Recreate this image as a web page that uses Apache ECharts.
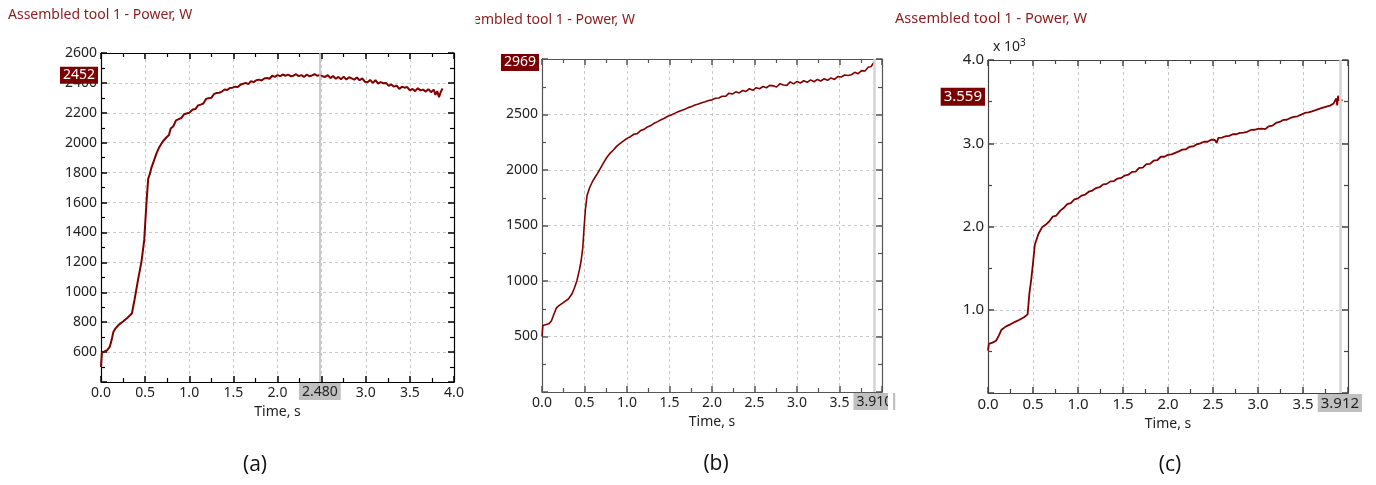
<!DOCTYPE html>
<html>
<head>
<meta charset="utf-8">
<script src="https://cdn.jsdelivr.net/npm/echarts@6/dist/echarts.min.js"></script>
<style>
  html, body { margin: 0; padding: 0; background: #fff; }
  #main { width: 1376px; height: 485px; }
</style>
</head>
<body>
<div id="main"></div>
<script>
// panel (a)
var timeA = [0, 0.01, 0.04, 0.07, 0.1, 0.12, 0.14, 0.16, 0.2, 0.25, 0.3, 0.35, 0.38, 0.42, 0.46, 0.49, 0.505, 0.52, 0.535, 0.55, 0.57, 0.6, 0.63, 0.66, 0.7, 0.74, 0.77, 0.79, 0.82, 0.85, 0.88, 0.91, 0.94, 0.97, 1.0,
  1.04, 1.07, 1.1, 1.13, 1.16, 1.19, 1.22, 1.25, 1.28, 1.31, 1.34, 1.37, 1.4, 1.43, 1.46, 1.49, 1.52, 1.55, 1.58, 1.61, 1.64, 1.67, 1.7, 1.73, 1.76, 1.79, 1.82, 1.85, 1.88, 1.91, 1.94, 1.97,
  2.0, 2.03, 2.06, 2.09, 2.12, 2.15, 2.18, 2.21, 2.24, 2.27, 2.3, 2.33, 2.36, 2.39, 2.42, 2.45, 2.48, 2.51, 2.54, 2.57, 2.6, 2.63, 2.66, 2.69, 2.72, 2.75, 2.78, 2.81, 2.84, 2.87, 2.9, 2.93, 2.96, 2.99,
  3.02, 3.05, 3.08, 3.11, 3.14, 3.17, 3.2, 3.23, 3.26, 3.29, 3.32, 3.35, 3.38, 3.41, 3.44, 3.47, 3.5, 3.53, 3.56, 3.59, 3.62, 3.65, 3.68, 3.71, 3.74, 3.77, 3.79, 3.81, 3.83, 3.85, 3.87];
var powerA = [500, 595, 605, 612, 637, 680, 735, 755, 782, 805, 830, 858, 950, 1085, 1210, 1350, 1500, 1640, 1760, 1785, 1830, 1880, 1930, 1970, 2008, 2035, 2052, 2095, 2110, 2150, 2158, 2165, 2190, 2195, 2200,
  2222, 2225, 2250, 2255, 2262, 2292, 2298, 2300, 2325, 2333, 2334, 2342, 2356, 2352, 2366, 2368, 2375, 2372, 2388, 2394, 2400, 2392, 2412, 2405, 2418, 2422, 2416, 2430, 2433, 2428, 2448, 2440,
  2452, 2445, 2456, 2448, 2455, 2445, 2448, 2458, 2445, 2452, 2440, 2455, 2445, 2450, 2458, 2448, 2452, 2445, 2440, 2452, 2432, 2446, 2428, 2440, 2425, 2442, 2422, 2438, 2430, 2422, 2436, 2418, 2430, 2408,
  2405, 2420, 2400, 2418, 2396, 2405, 2398, 2400, 2380, 2390, 2375, 2382, 2360, 2375, 2368, 2372, 2350, 2360, 2345, 2365, 2350, 2355, 2342, 2358, 2338, 2355, 2320, 2345, 2305, 2340, 2362];

// panel (b)
var timeB = [0, 0.01, 0.05, 0.08, 0.11, 0.14, 0.17, 0.2, 0.25, 0.31, 0.35, 0.38, 0.41, 0.44, 0.46, 0.48, 0.495, 0.51, 0.53, 0.56, 0.59, 0.62, 0.65, 0.69, 0.72, 0.76, 0.8, 0.84, 0.88, 0.92, 0.96, 1.0,
  1.04, 1.08, 1.12, 1.16, 1.2, 1.24, 1.28, 1.32, 1.36, 1.4, 1.44, 1.48, 1.52, 1.56, 1.6, 1.64, 1.68, 1.72, 1.76, 1.8, 1.84, 1.88, 1.92, 1.96, 2.0,
  2.04, 2.08, 2.12, 2.16, 2.2, 2.24, 2.28, 2.32, 2.36, 2.4, 2.44, 2.48, 2.52, 2.56, 2.6, 2.64, 2.68, 2.72, 2.76, 2.8, 2.84, 2.88, 2.92, 2.96, 3.0,
  3.04, 3.08, 3.12, 3.16, 3.2, 3.24, 3.28, 3.32, 3.36, 3.4, 3.44, 3.48, 3.52, 3.56, 3.6, 3.64, 3.68, 3.72, 3.76, 3.8, 3.84, 3.87, 3.9, 3.91];
var powerB = [500, 600, 608, 614, 640, 700, 758, 778, 805, 838, 880, 935, 1000, 1100, 1180, 1300, 1480, 1640, 1770, 1840, 1890, 1930, 1965, 2020, 2060, 2110, 2150, 2180, 2215, 2240, 2262, 2285,
  2300, 2322, 2328, 2355, 2366, 2388, 2400, 2422, 2436, 2452, 2466, 2484, 2496, 2510, 2524, 2536, 2548, 2562, 2572, 2586, 2594, 2606, 2614, 2626, 2632,
  2646, 2648, 2664, 2664, 2692, 2684, 2704, 2694, 2716, 2708, 2732, 2718, 2742, 2732, 2752, 2741, 2762, 2758, 2748, 2778, 2766, 2762, 2794, 2776, 2798,
  2784, 2804, 2790, 2812, 2795, 2816, 2802, 2822, 2808, 2830, 2816, 2842, 2838, 2856, 2852, 2858, 2880, 2868, 2895, 2892, 2928, 2930, 2964, 2969];

// panel (c)
var timeC = [0, 0.01, 0.05, 0.09, 0.12, 0.15, 0.2, 0.25, 0.3, 0.35, 0.4, 0.44, 0.46, 0.48, 0.5, 0.52, 0.56, 0.6, 0.64, 0.68, 0.72, 0.76, 0.8, 0.84, 0.88, 0.92, 0.96, 1.0,
  1.04, 1.08, 1.12, 1.16, 1.2, 1.24, 1.28, 1.32, 1.36, 1.4, 1.44, 1.48, 1.52, 1.56, 1.6, 1.64, 1.68, 1.72, 1.76, 1.8, 1.84, 1.88, 1.92, 1.96, 2.0,
  2.04, 2.08, 2.12, 2.16, 2.2, 2.24, 2.28, 2.32, 2.36, 2.4, 2.44, 2.48, 2.52, 2.54, 2.56, 2.6, 2.64, 2.68, 2.72, 2.76, 2.8, 2.84, 2.88, 2.92, 2.96, 3.0,
  3.04, 3.08, 3.12, 3.16, 3.2, 3.24, 3.28, 3.32, 3.36, 3.4, 3.44, 3.48, 3.52, 3.56, 3.6, 3.64, 3.68, 3.72, 3.76, 3.8, 3.84, 3.86, 3.87, 3.88, 3.89, 3.9, 3.92, 3.94];
var powerC = [510, 590, 605, 628, 690, 760, 800, 825, 855, 880, 910, 945, 1200, 1360, 1560, 1780, 1910, 1990, 2020, 2060, 2120, 2132, 2188, 2222, 2268, 2282, 2326, 2338,
  2372, 2384, 2418, 2432, 2462, 2472, 2506, 2512, 2542, 2546, 2576, 2584, 2612, 2622, 2656, 2660, 2704, 2708, 2750, 2752, 2790, 2796, 2838, 2838, 2862,
  2866, 2884, 2902, 2924, 2928, 2958, 2962, 2988, 2998, 3018, 3018, 3042, 3040, 3005, 3065, 3068, 3084, 3088, 3108, 3108, 3124, 3128, 3138, 3160, 3162, 3172,
  3176, 3170, 3204, 3212, 3244, 3256, 3280, 3282, 3304, 3318, 3324, 3344, 3364, 3372, 3384, 3398, 3414, 3428, 3440, 3452, 3478, 3480, 3540, 3455, 3570, 3520, 3540, 3515];

// cursor readouts
var cursorTime = [2.48, 3.91, 3.912];
var cursorTimeText = ['2.480', '3.910', '3.912'];
var cursorPower = [2452, 2969, 3559];
var cursorPowerText = ['2452', '2969', '3.559'];

var yMin = [400, 0, 0];
var yMax = [2600, 3000, 4000];
var yStep = [200, 500, 1000];

function zip(t, v) {
  var out = [];
  for (var i = 0; i < t.length; i++) out.push([t[i], v[i]]);
  return out;
}

var myChart = echarts.init(document.getElementById('main'));
var font = 'Noto Sans';
var lineColor = '#800000';
var grids = [
  {left: 101, top: 53, width: 353, height: 329},
  {left: 542, top: 59, width: 340, height: 333},
  {left: 988, top: 60, width: 360, height: 333}
];
var axisColor = ['#000', '#555', '#444'];
var labelSize = [14, 14, 15];

var xAxes = [], yAxes = [], series = [];
for (var i = 0; i < 3; i++) {
  var tick = {show: true, inside: true, length: 6, lineStyle: {color: axisColor[i], width: 1.5}};
  var minor = {show: true, splitNumber: 2, length: 4, lineStyle: {color: axisColor[i], width: 1.2}};
  var line = {show: true, onZero: false, lineStyle: {color: axisColor[i], width: 1.2}};
  xAxes.push({
    gridIndex: i, type: 'value', min: 0, max: 4, interval: 0.5, position: 'bottom',
    name: 'Time, s', nameLocation: 'middle', nameGap: 23,
    nameTextStyle: {fontFamily: font, fontSize: 14, color: '#222'},
    axisLine: line, axisTick: tick, minorTick: minor,
    axisLabel: {fontFamily: font, fontSize: labelSize[i], color: '#222', margin: 4,
      formatter: function (v) { return v.toFixed(1); }},
    splitLine: {show: true, lineStyle: {color: '#c8c8c8', type: [3, 3]}}
  });
  xAxes.push({
    gridIndex: i, type: 'value', min: 0, max: 4, interval: 0.5, position: 'top',
    axisLine: line, axisTick: tick, minorTick: minor,
    axisLabel: {show: false}, splitLine: {show: false}
  });
  yAxes.push({
    gridIndex: i, type: 'value', min: yMin[i], max: yMax[i], interval: yStep[i], position: 'left',
    axisLine: line, axisTick: tick, minorTick: minor,
    axisLabel: {fontFamily: font, fontSize: labelSize[i], color: '#222', margin: 4,
      showMinLabel: false, showMaxLabel: i !== 1,
      formatter: i === 2 ? function (v) { return (v / 1000).toFixed(1); } : function (v) { return String(v); }},
    splitLine: {show: true, lineStyle: {color: '#c8c8c8', type: [3, 3]}}
  });
  yAxes.push({
    gridIndex: i, type: 'value', min: yMin[i], max: yMax[i], interval: yStep[i], position: 'right',
    axisLine: line, axisTick: tick, minorTick: minor,
    axisLabel: {show: false}, splitLine: {show: false}
  });
}

var dataSets = [zip(timeA, powerA), zip(timeB, powerB), zip(timeC, powerC)];
var widths = [2, 1.6, 1.8];
for (var k = 0; k < 3; k++) {
  series.push({
    type: 'line', xAxisIndex: 2 * k, yAxisIndex: 2 * k,
    data: dataSets[k], showSymbol: false, animation: false,
    lineStyle: {color: lineColor, width: widths[k]},
    markLine: {
      silent: true, symbol: ['none', 'none'], animation: false,
      data: [
        {xAxis: cursorTime[k],
          lineStyle: {color: k === 0 ? '#b8b8b8' : '#d4d4d4', width: k === 0 ? 1.5 : 2.5, type: 'solid'},
          label: {show: true, position: 'start', distance: 1, formatter: cursorTimeText[k],
            fontFamily: font, fontSize: labelSize[k], color: '#222',
            backgroundColor: '#c0c0c0', padding: [2, 3, 1, 3]}},
        {yAxis: cursorPower[k],
          lineStyle: {color: 'rgba(0,0,0,0)', width: 0},
          label: {show: true, position: 'start', distance: 3, formatter: cursorPowerText[k],
            fontFamily: font, fontSize: labelSize[k], color: '#fff',
            backgroundColor: '#7a0000', padding: [2, 3, 1, 3]}}
      ]
    }
  });
}

var titleColor = '#8a1c1c';
var option = {
  backgroundColor: '#fff',
  animation: false,
  grid: grids,
  xAxis: xAxes,
  yAxis: yAxes,
  series: series,
  graphic: [
    {type: 'text', x: 8, y: 15, style: {text: 'Assembled tool 1 - Power, W', fontFamily: font, fontSize: 14, fill: titleColor, verticalAlign: 'middle'}},
    {type: 'text', x: 635, y: 20, style: {text: 'Assembled tool 1 - Power, W', fontFamily: font, fontSize: 14, fill: titleColor, align: 'right', verticalAlign: 'middle'}},
    {type: 'rect', shape: {x: 420, y: 4, width: 55.5, height: 30}, style: {fill: '#fff'}, z: 100},
    {type: 'text', x: 1087, y: 19, style: {text: 'Assembled tool 1 - Power, W', fontFamily: font, fontSize: 14.6, fill: titleColor, align: 'right', verticalAlign: 'middle'}},
    {type: 'text', x: 993, y: 47, style: {
      text: '{b|x 10}{s|3}', verticalAlign: 'middle',
      rich: {b: {fontFamily: font, fontSize: 14, fill: '#222'}, s: {fontFamily: font, fontSize: 10, fill: '#222', verticalAlign: 'top', padding: [0, 0, 8, 0]}}
    }},
    {type: 'rect', shape: {x: 888, y: 390, width: 5, height: 26}, style: {fill: '#fff'}, z: 100},
    {type: 'text', x: 255, y: 465, style: {text: '(a)', fontFamily: 'Open Sans', fontSize: 21, fill: '#111', align: 'center', verticalAlign: 'middle'}},
    {type: 'text', x: 716, y: 464, style: {text: '(b)', fontFamily: 'Open Sans', fontSize: 21, fill: '#111', align: 'center', verticalAlign: 'middle'}},
    {type: 'text', x: 1170, y: 465, style: {text: '(c)', fontFamily: 'Open Sans', fontSize: 21, fill: '#111', align: 'center', verticalAlign: 'middle'}}
  ]
};
myChart.setOption(option);
window.addEventListener('resize', function () {
  myChart.resize();
});
</script>
</body>
</html>
